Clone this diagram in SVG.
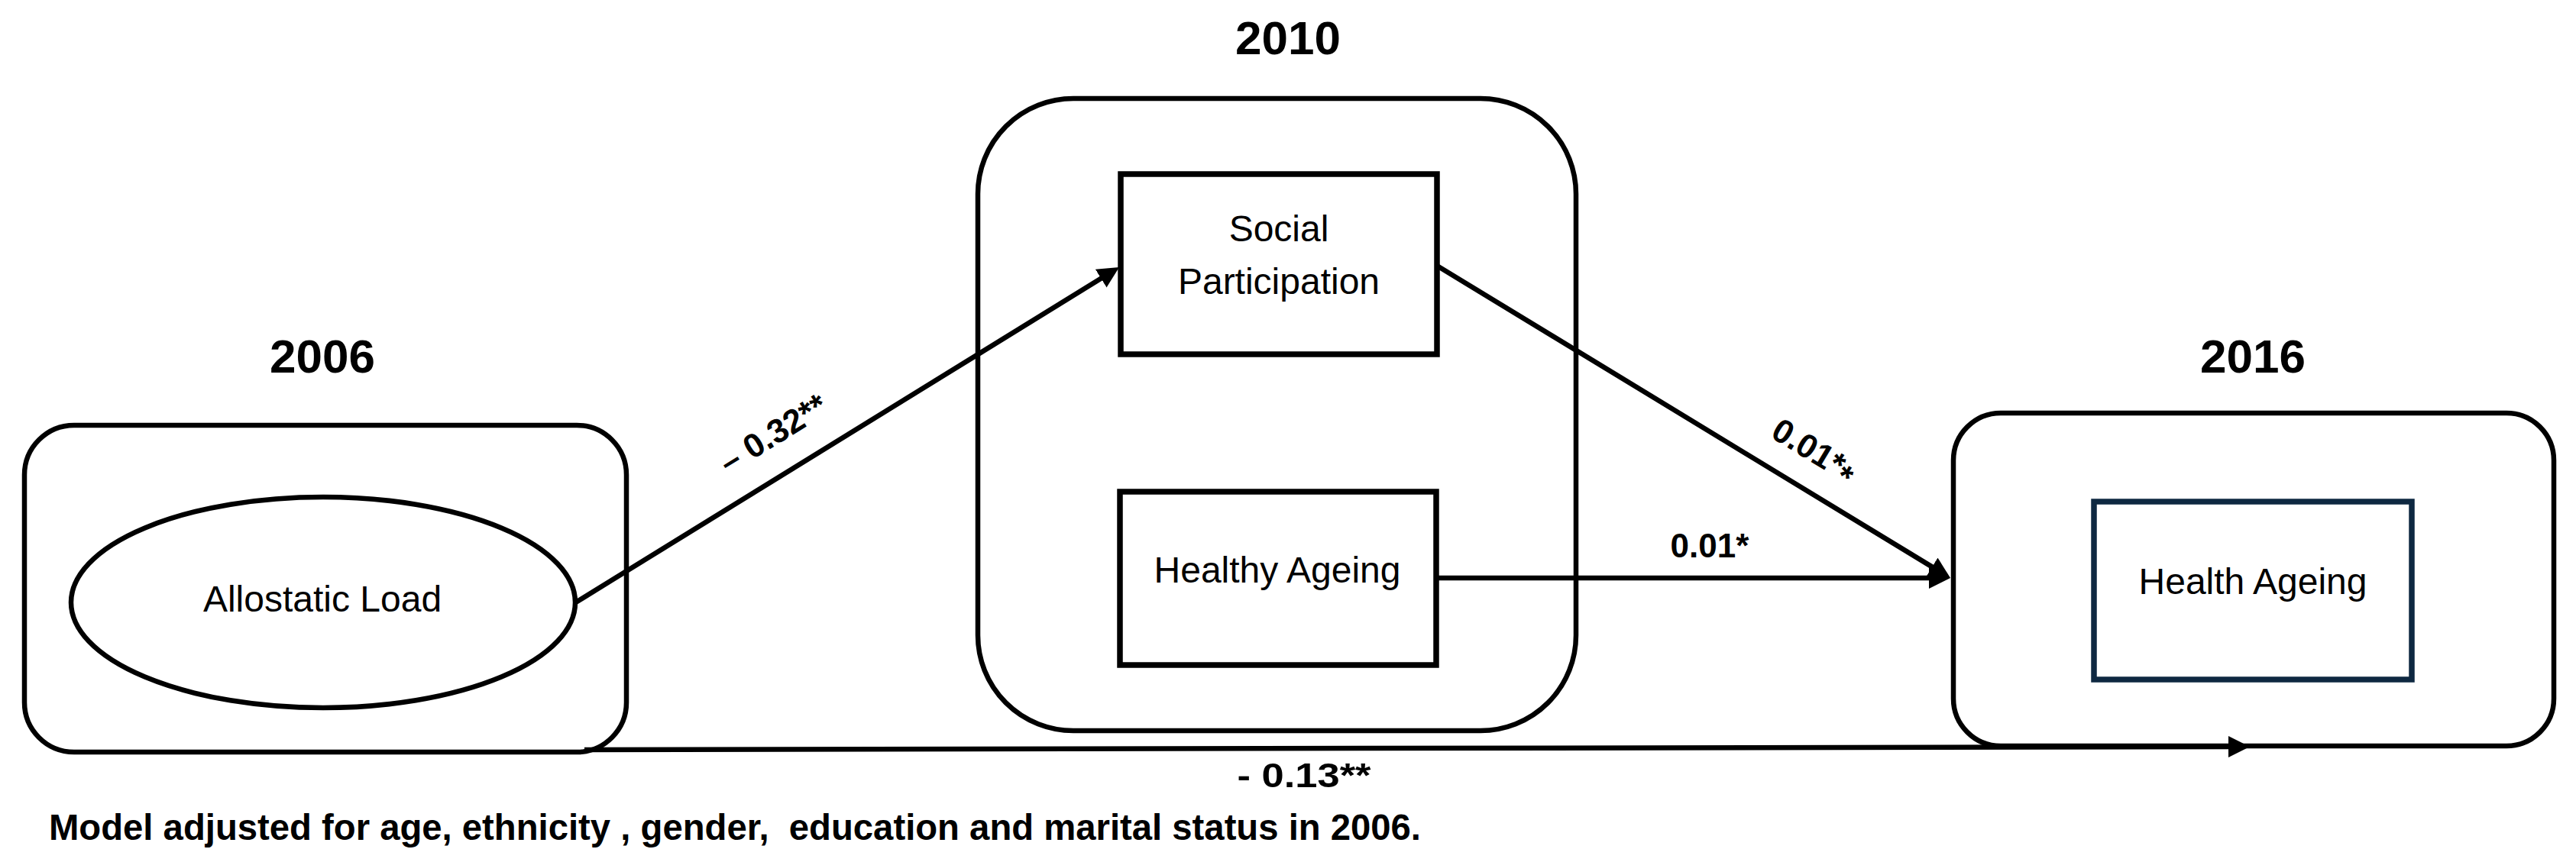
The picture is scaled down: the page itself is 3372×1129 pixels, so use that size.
<svg xmlns="http://www.w3.org/2000/svg" width="3372" height="1129" viewBox="0 0 3372 1129">
  <style>
    .frame { fill: #ffffff; stroke: #000000; stroke-width: 6.5; }
    .box { fill: #ffffff; stroke: #000000; stroke-width: 7.5; }
    .box-navy { fill: #ffffff; stroke: #0E2841; stroke-width: 7.5; }
    .conn { fill: none; stroke: #000000; stroke-width: 6.5; marker-end: url(#arrow); }
    .year { font-family: "Liberation Sans", Arial, sans-serif; font-weight: bold; font-size: 62px; fill: #000; text-anchor: middle; }
    .label { font-family: "Liberation Sans", Arial, sans-serif; font-size: 48px; fill: #000; text-anchor: middle; }
    .coef { font-family: "Liberation Sans", Arial, sans-serif; font-weight: bold; font-size: 44px; fill: #000; text-anchor: middle; }
    .note { font-family: "Liberation Sans", Arial, sans-serif; font-weight: bold; font-size: 48px; fill: #000; }
  </style>
  <defs>
    <marker id="arrow" markerUnits="userSpaceOnUse" markerWidth="30" markerHeight="30" refX="8" refY="14" orient="auto">
      <path d="M0,0 L28,14 L0,28 Z" fill="#000000"/>
    </marker>
  </defs>
  <rect width="3372" height="1129" fill="#ffffff"/>

  <!-- 2006 group -->
  <g id="node-2006">
    <text class="year" x="422" y="488">2006</text>
    <rect class="frame" x="32" y="557" width="788" height="428" rx="65" ry="65"/>
  </g>
  <g id="node-allostatic-load">
    <ellipse class="frame" cx="423" cy="789" rx="330" ry="138"/>
    <text class="label" x="422" y="801" font-size="53">Allostatic Load</text>
  </g>

  <!-- 2010 group -->
  <g id="node-2010">
    <text class="year" x="1686" y="71">2010</text>
    <rect class="frame" x="1280" y="129" width="783" height="828" rx="125" ry="125"/>
  </g>
  <g id="node-social-participation">
    <rect class="box" x="1467" y="228" width="414" height="236"/>
    <text class="label" x="1674" y="316">Social</text>
    <text class="label" x="1674" y="385">Participation</text>
  </g>
  <g id="node-healthy-ageing">
    <rect class="box" x="1466" y="644" width="414" height="227"/>
    <text class="label" x="1672" y="763">Healthy Ageing</text>
  </g>

  <!-- 2016 group -->
  <g id="node-2016">
    <text class="year" x="2949" y="488">2016</text>
    <rect class="frame" x="2557" y="541" width="786" height="436" rx="62" ry="62"/>
  </g>
  <g id="node-health-ageing">
    <rect class="box-navy" x="2741" y="657" width="416" height="233"/>
    <text class="label" x="2949" y="778" font-size="51">Health Ageing</text>
  </g>

  <!-- connectors -->
  <g id="connectors">
    <line class="conn" x1="752" y1="790" x2="1448" y2="360.5"/>
    <line class="conn" x1="1881" y1="348" x2="2536" y2="746.6"/>
    <line class="conn" x1="1880" y1="757" x2="2533" y2="757"/>
    <line class="conn" x1="765" y1="982" x2="2925" y2="978"/>
    <text class="coef" transform="translate(1012,568) rotate(-31.7)" x="0" y="15">– 0.32**</text>
    <text class="coef" transform="translate(2375,590) rotate(31.3)" x="0" y="15">0.01*<tspan dy="9">*</tspan></text>
    <text class="coef" x="2238" y="730">0.01*</text>
    <text class="coef" x="1707" y="1031" font-size="48" textLength="175" lengthAdjust="spacingAndGlyphs">- 0.13**</text>
  </g>

  <!-- note -->
  <text class="note" x="64" y="1100" xml:space="preserve" textLength="1796" lengthAdjust="spacingAndGlyphs">Model adjusted for age, ethnicity , gender,  education and marital status in 2006.</text>
</svg>
